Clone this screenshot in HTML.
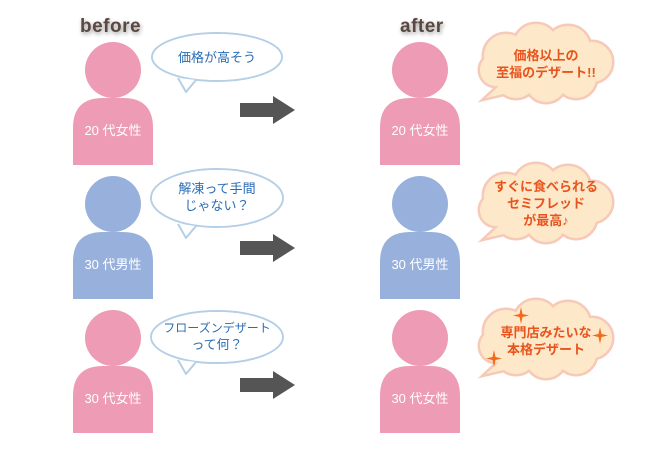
<!DOCTYPE html>
<html><head><meta charset="utf-8"><style>
html,body{margin:0;padding:0;background:#fff;}
svg{display:block}
text{font-family:"Liberation Sans","Noto Sans CJK JP",sans-serif;}
</style></head><body>
<svg width="650" height="463" viewBox="0 0 650 463" xmlns="http://www.w3.org/2000/svg">
<defs>
<filter id="sh" x="-20%" y="-40%" width="140%" height="180%"><feGaussianBlur in="SourceAlpha" stdDeviation="2"/><feOffset dx="1" dy="2"/><feComponentTransfer><feFuncA type="linear" slope="0.4"/></feComponentTransfer><feMerge><feMergeNode/><feMergeNode in="SourceGraphic"/></feMerge></filter>
<g id="body"><circle cx="0" cy="0" r="28"/><path d="M-40 95 V58 Q-40 28 -10 28 H10 Q40 28 40 58 V95 Z"/></g>
<g id="arrow"><path d="M0 -7 H33 V-14 L55 0 L33 14 V7 H0 Z" fill="#555"/></g>
<g id="cloudS">
<circle cx="-40" cy="-8" r="22"/><circle cx="-10" cy="-18" r="22"/><circle cx="22" cy="-16" r="22"/><circle cx="46" cy="-2" r="20"/><circle cx="30" cy="14" r="20"/><circle cx="0" cy="18" r="20"/><circle cx="-30" cy="14" r="20"/><circle cx="-50" cy="6" r="16"/><path d="M-45 20 L-60 34 L-25 26 Z"/>
</g>
</defs>
<text x="80" y="32" font-size="19" font-weight="bold" fill="#5a4a42" filter="url(#sh)" letter-spacing="0.5">before</text>
<text x="400" y="32" font-size="19" font-weight="bold" fill="#5a4a42" filter="url(#sh)" letter-spacing="0.5">after</text>

<g fill="#ee9bb5"><use href="#body" x="113" y="70"/></g>
<g fill="#98b1dc"><use href="#body" x="113" y="204"/></g>
<g fill="#ee9bb5"><use href="#body" x="113" y="338"/></g>
<g fill="#ee9bb5"><use href="#body" x="420" y="70"/></g>
<g fill="#98b1dc"><use href="#body" x="420" y="204"/></g>
<g fill="#ee9bb5"><use href="#body" x="420" y="338"/></g>
<g fill="#fff" font-size="13" text-anchor="middle">
<text x="113" y="135">20 代女性</text><text x="113" y="269">30 代男性</text><text x="113" y="403">30 代女性</text>
<text x="420" y="135">20 代女性</text><text x="420" y="269">30 代男性</text><text x="420" y="403">30 代女性</text>
</g>
<use href="#arrow" x="240" y="110"/><use href="#arrow" x="240" y="248"/><use href="#arrow" x="240" y="385"/>

<g fill="#fff" stroke="#b5cfe6" stroke-width="2">
<ellipse cx="217" cy="57" rx="65" ry="24"/><ellipse cx="217" cy="198" rx="66" ry="29"/><ellipse cx="217" cy="337" rx="66" ry="26"/>
</g>
<g fill="#fff" stroke="#b5cfe6" stroke-width="2" stroke-linejoin="round">
<path d="M178 78 L186 92 L196 80"/><path d="M178 224 L186 238 L196 226"/><path d="M178 360 L186 374 L196 362"/>
</g>
<g fill="#fff"><ellipse cx="217" cy="57" rx="64" ry="23"/><ellipse cx="217" cy="198" rx="65" ry="28"/><ellipse cx="217" cy="337" rx="65" ry="25"/></g>
<g fill="#2a6db5" font-size="13" text-anchor="middle">
<text x="217" y="62">価格が高そう</text>
<text x="217" y="193">解凍って手間</text><text x="217" y="210">じゃない？</text>
<text x="217" y="332" font-size="12">フローズンデザート</text><text x="217" y="349">って何？</text>
</g>

<g transform="translate(546,64)"><g fill="#f7c9b9" stroke="#f7c9b9" stroke-width="5"><use href="#cloudS"/></g><g fill="#fde9c9"><use href="#cloudS"/></g></g>
<g transform="translate(546,204)"><g fill="#f7c9b9" stroke="#f7c9b9" stroke-width="5"><use href="#cloudS"/></g><g fill="#fde9c9"><use href="#cloudS"/></g></g>
<g transform="translate(546,340)"><g fill="#f7c9b9" stroke="#f7c9b9" stroke-width="5"><use href="#cloudS"/></g><g fill="#fde9c9"><use href="#cloudS"/></g></g>
<g fill="#e8541e" font-size="13" font-weight="bold" text-anchor="middle">
<text x="546" y="60">価格以上の</text><text x="546" y="77">至福のデザート!!</text>
<text x="546" y="191">すぐに食べられる</text><text x="546" y="208">セミフレッド</text><text x="546" y="225">が最高♪</text>
<text x="546" y="337">専門店みたいな</text><text x="546" y="354">本格デザート</text>
</g>
<g fill="#f26a1b">
<path d="M521 307 L522.5 314 L529 315.5 L522.5 317 L521 324 L519.5 317 L513 315.5 L519.5 314 Z"/>
<path d="M600 327 L601.5 334 L608 335.5 L601.5 337 L600 344 L598.5 337 L592 335.5 L598.5 334 Z"/>
<path d="M494 350 L495.5 357 L502 358.5 L495.5 360 L494 367 L492.5 360 L486 358.5 L492.5 357 Z"/>
</g>
</svg>
</body></html>
